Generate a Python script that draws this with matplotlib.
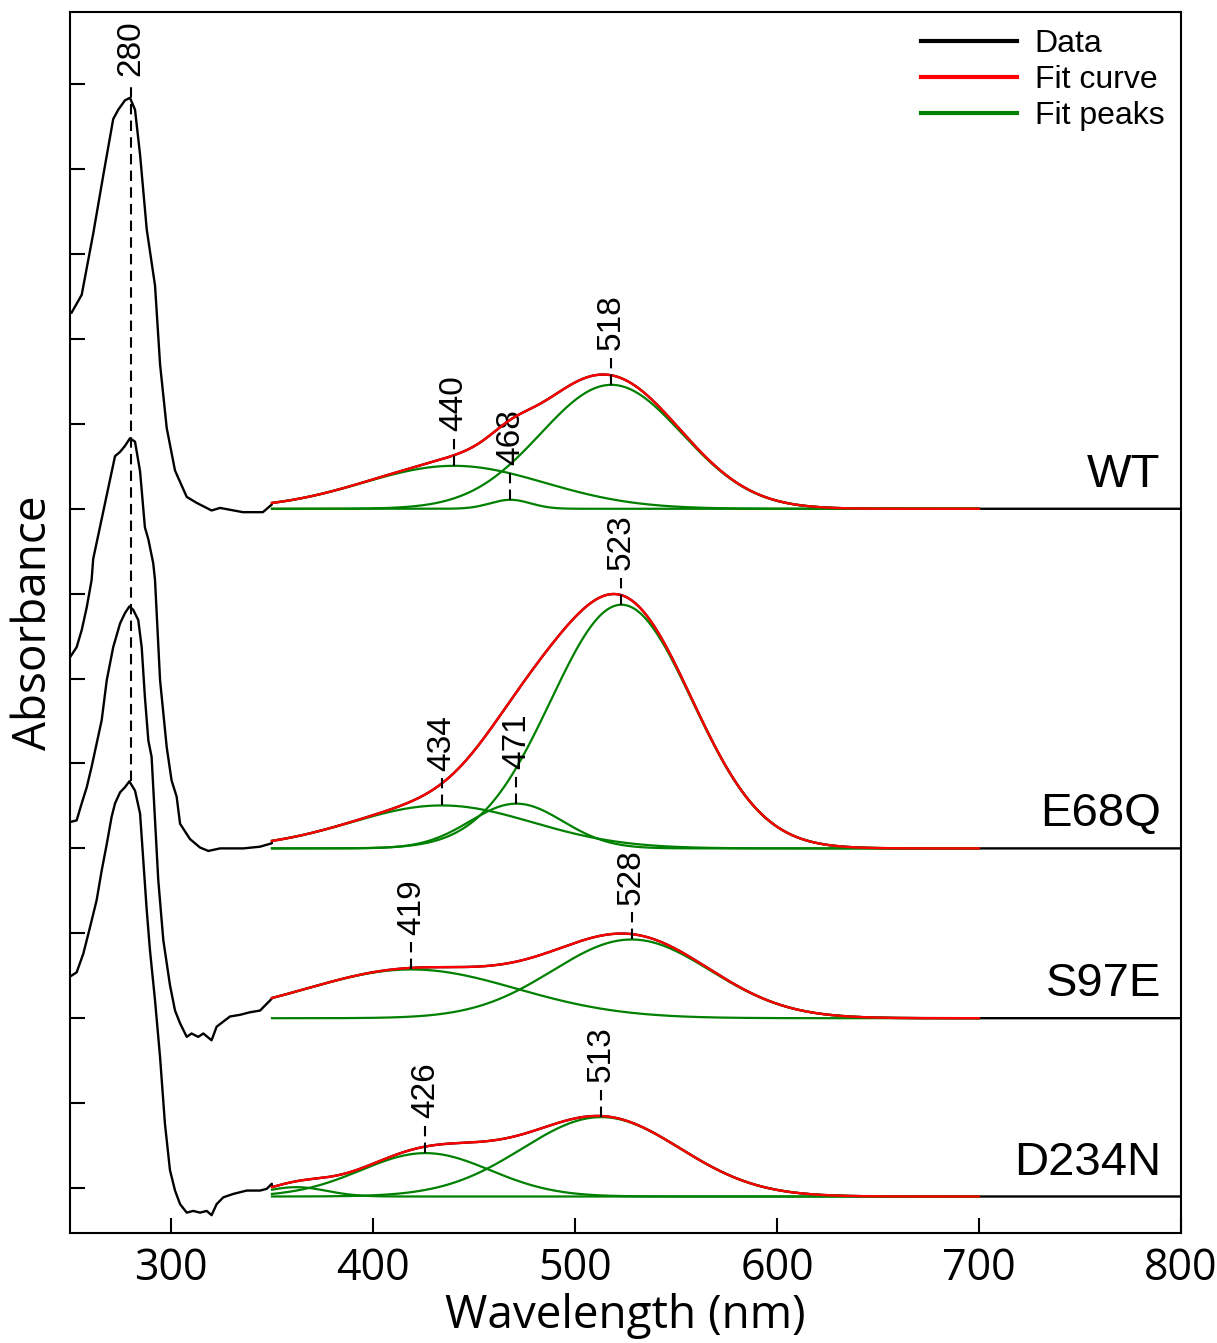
import numpy as np
import matplotlib
matplotlib.use('Agg')
from matplotlib import pyplot as plt

samples = ['WT', 'E68Q', 'S97E', 'D234N']
offsets = [0.8, 0.4, 0.2, -0.01]

# measured UV part of each spectrum (nm, absorbance above own baseline)
wt_uv_nm = [250.8, 255.8, 261.5, 266.5, 271.4, 273.9, 277.2, 279.7, 282.2, 284.7, 288.0, 292.1,
            294.6, 297.9, 302.0, 307.8, 312.7, 320.1, 324.3, 335.6, 345.5, 349.9]
wt_uv_abs = [0.231, 0.252, 0.324, 0.393, 0.459, 0.470, 0.481, 0.484, 0.470, 0.417, 0.329, 0.263,
             0.170, 0.095, 0.045, 0.014, 0.007, -0.002, 0.001, -0.004, -0.004, 0.005]

e68q_uv_nm = [250.0, 253.3, 255.8, 258.3, 260.7, 261.5, 266.5, 269.0, 272.3, 274.8, 277.2, 279.7,
              282.2, 284.7, 287.1, 288.8, 291.2, 292.1, 294.6, 297.9, 300.3, 302.8, 304.5, 309.4,
              314.4, 318.5, 324.3, 335.8, 344.1, 349.9]
e68q_uv_abs = [0.225, 0.237, 0.257, 0.284, 0.316, 0.341, 0.397, 0.425, 0.462, 0.467, 0.474, 0.483,
               0.479, 0.444, 0.378, 0.364, 0.336, 0.316, 0.198, 0.119, 0.080, 0.061, 0.029, 0.011,
               0.001, -0.003, 0.0, 0.0, 0.002, 0.006]

s97e_uv_nm = [250.0, 253.3, 255.8, 258.3, 260.7, 265.7, 268.2, 271.4, 274.8, 277.2, 279.4, 281.3,
              283.8, 285.5, 287.1, 288.8, 290.4, 292.1, 293.7, 296.2, 299.5, 302.0, 304.5, 307.8,
              310.2, 313.5, 316.0, 320.1, 322.6, 325.9, 329.2, 334.2, 339.1, 344.1, 347.4, 349.9]
s97e_uv_abs = [0.231, 0.233, 0.253, 0.272, 0.296, 0.351, 0.398, 0.437, 0.465, 0.477, 0.485, 0.481,
               0.469, 0.437, 0.378, 0.327, 0.308, 0.233, 0.163, 0.092, 0.039, 0.009, -0.006, -0.022,
               -0.018, -0.022, -0.018, -0.026, -0.010, -0.004, 0.002, 0.004, 0.007, 0.009, 0.017, 0.023]

d234n_uv_nm = [250.0, 253.3, 256.6, 259.9, 263.2, 265.7, 268.2, 270.6, 272.3, 274.8, 277.2, 279.4,
               282.2, 284.7, 286.3, 288.0, 289.6, 292.1, 294.6, 297.0, 299.5, 302.0, 304.5, 307.8,
               311.0, 314.4, 317.7, 320.1, 322.6, 325.9, 330.8, 337.5, 344.1, 347.4, 349.9]
d234n_uv_abs = [0.259, 0.264, 0.286, 0.317, 0.349, 0.384, 0.415, 0.447, 0.463, 0.476, 0.482, 0.489,
                0.478, 0.451, 0.396, 0.337, 0.290, 0.231, 0.164, 0.086, 0.031, 0.007, -0.009, -0.019,
                -0.017, -0.019, -0.017, -0.022, -0.009, -0.001, 0.003, 0.007, 0.007, 0.009, 0.015]

# red end of the data, past the fitted range
tail_nm = [700, 750, 800]
tail_abs = [0.0, 0.0, 0.0]

# gaussian fit peaks: centre (nm), height, width (nm)
wt_centres = [440, 468, 518]
wt_heights = [0.0506, 0.0106, 0.146]
wt_widths = [45, 10, 35]

e68q_centres = [434, 471, 523]
e68q_heights = [0.0506, 0.0527, 0.287]
e68q_widths = [45, 23, 35]

s97e_centres = [419, 528]
s97e_heights = [0.0574, 0.0927]
s97e_widths = [52, 39]

d234n_centres = [362, 426, 513]
d234n_heights = [0.011, 0.0511, 0.0935]
d234n_widths = [15, 32, 39]
d234n_labelled = [False, True, True]

uv_nm = [wt_uv_nm, e68q_uv_nm, s97e_uv_nm, d234n_uv_nm]
uv_abs = [wt_uv_abs, e68q_uv_abs, s97e_uv_abs, d234n_uv_abs]
centres = [wt_centres, e68q_centres, s97e_centres, d234n_centres]
heights = [wt_heights, e68q_heights, s97e_heights, d234n_heights]
widths = [wt_widths, e68q_widths, s97e_widths, d234n_widths]
labelled = [[True] * 3, [True] * 3, [True] * 2, d234n_labelled]

fit_range = np.arange(350, 700.5, 1.0)
label_font = ['Liberation Sans', 'DejaVu Sans']
tick_font = ['Open Sans', 'DejaVu Sans']

fig = plt.figure(figsize=(12.17, 13.43), dpi=100)
ax = fig.add_axes([0.0575, 0.0819, 0.9129, 0.9091])

gap = 0.041
for i, name in enumerate(samples):
    off = offsets[i]
    peaks = [h * np.exp(-(fit_range - c) ** 2 / (2 * w ** 2))
             for c, h, w in zip(centres[i], heights[i], widths[i])]
    fit = np.sum(peaks, axis=0)

    x = np.concatenate([uv_nm[i], fit_range, tail_nm[1:]])
    y = np.concatenate([uv_abs[i], fit, tail_abs[1:]])
    ax.plot(x, y + off, color='black', lw=1.7, label='Data' if i == 0 else None,
            zorder=2, solid_joinstyle='round')
    for k, p in enumerate(peaks):
        ax.plot(fit_range, p + off, color='#008000', lw=1.6,
                label='Fit peaks' if (i == 0 and k == 0) else None, zorder=3)
    ax.plot(fit_range, fit + off, color='#ff0000', lw=1.7,
            label='Fit curve' if i == 0 else None, zorder=4)

    for c, h, show in zip(centres[i], heights[i], labelled[i]):
        if not show:
            continue
        top = off + h
        ax.plot([c, c], [top, top + gap - 0.009], color='black', lw=1.5,
                dashes=(5, 3), zorder=5)
        ax.text(c, top + gap, str(c), rotation=90, ha='center', va='bottom',
                fontsize=24, family=label_font)

    ax.text(790, off + 0.04, name, ha='right', va='center',
            fontsize=34, family=label_font)

# 280 nm protein band
uv_peak = 280
ax.plot([uv_peak, uv_peak], [offsets[3] + max(d234n_uv_abs), 1.300], color='black', lw=1.5,
        dashes=(5, 3), zorder=5)
ax.text(uv_peak, 1.3097, str(uv_peak), rotation=90, ha='center', va='bottom',
        fontsize=24, family=label_font)

ax.set_xlim(250, 800)
ax.set_ylim(-0.053, 1.385)
ax.set_xticks([300, 400, 500, 600, 700, 800])
ax.set_yticks(np.arange(0, 1.35, 0.1))
ax.set_yticklabels([])
ax.tick_params(direction='in', length=11, width=1.5, top=False, right=False)
ax.tick_params(axis='x', labelsize=31, pad=10)
for lab in ax.get_xticklabels():
    lab.set_family(tick_font)
for s in ax.spines.values():
    s.set_linewidth(1.5)

ax.set_xlabel('Wavelength (nm)', fontsize=33, family=tick_font, labelpad=1)
ax.set_ylabel('Absorbance', fontsize=33, family=tick_font, labelpad=6)

handles, labels = ax.get_legend_handles_labels()
order = [labels.index(t) for t in ['Data', 'Fit curve', 'Fit peaks']]
leg = ax.legend([handles[j] for j in order], [labels[j] for j in order],
                loc='upper right', frameon=False,
                handlelength=3.0, handletextpad=0.55, labelspacing=0.2,
                borderaxespad=0.12, prop={'family': label_font, 'size': 23})
for h in leg.get_lines():
    h.set_linewidth(3)

fig.savefig('out.png', dpi=100)
